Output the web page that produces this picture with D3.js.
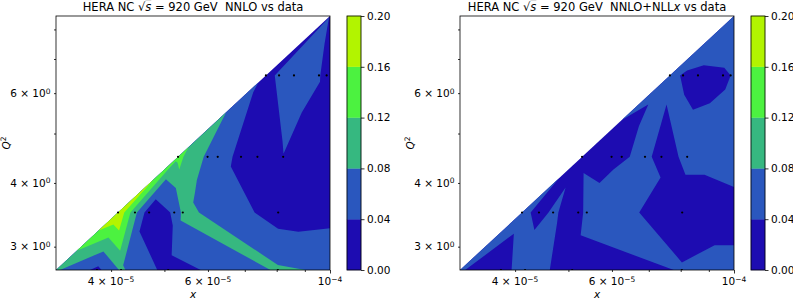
<!DOCTYPE html>
<html><head><meta charset="utf-8">
<script src="https://cdn.jsdelivr.net/npm/d3@7"></script>
<style>
body{margin:0;background:#fff;}
svg text{font-family:"DejaVu Sans",sans-serif;fill:#000;}
</style></head><body>
<svg id="chart" width="793" height="299"></svg>
<script>
// ---------- data ----------
// measured data points (x, Q2), drawn as black dots
const pointX  = [3.77e-5, 4.17e-5, 5.08e-5, 8.04e-5,
                 4.118e-5, 4.42e-5, 4.69e-5, 5.21e-5, 5.40e-5, 8.05e-5,
                 5.294e-5, 5.99e-5, 6.25e-5, 6.89e-5, 7.38e-5, 8.22e-5,
                 7.647e-5, 8.08e-5, 8.60e-5, 9.55e-5, 9.86e-5];
const pointQ2 = [2.7, 2.7, 2.7, 2.7,
                 3.5, 3.5, 3.5, 3.5, 3.5, 3.5,
                 4.5, 4.5, 4.5, 4.5, 4.5, 4.5,
                 6.5, 6.5, 6.5, 6.5, 6.5];
const nnloVsData = [0.030, 0.085, 0.025, 0.085,
                    0.199, 0.090, 0.015, 0.045, 0.090, 0.020,
                    0.130, 0.072, 0.060, 0.028, 0.020, 0.039,
                    0.030, 0.045, 0.070, 0.041, 0.035];
const nnloNllxVsData = [0.025, 0.060, 0.020, 0.042,
                        0.050, 0.030, 0.045, 0.020, 0.055, 0.025,
                        0.033, 0.025, 0.035, 0.050, 0.025, 0.048,
                        0.050, 0.037, 0.033, 0.035, 0.040];
// boundary points of the region (corners and right edge, hidden by the frame)
const edgeX  = [3.176e-5, 1e-4, 1e-4, 1e-4, 1e-4, 1e-4];
const edgeQ2 = [2.7, 2.7, 3.5, 4.5, 6.5, 8.5];
const edgeNnlo     = [0.085, 0.075, 0.025, 0.030, 0.025, 0.039];
const edgeNnloNllx = [0.042, 0.050, 0.025, 0.060, 0.050, 0.079];

const levels = [0.00, 0.04, 0.08, 0.12, 0.16, 0.20];
const levelLabels = ["0.00", "0.04", "0.08", "0.12", "0.16", "0.20"];
const bandColors = ["#1d0cb1", "#2a57be", "#36b880", "#4cf240", "#b2f400"];

const xDomain = [3.176e-5, 1e-4];
const q2Domain = [2.7, 8.5];
const xMinorTicks = [5e-5, 7e-5, 8e-5, 9e-5];
const xLabelTicks = [4e-5, 6e-5];
const xLabelMant = ["4", "6"];
const xLabelExp = ["−5", "−5"];
const xMajorTicks = [1e-4];
const xMajorExp = ["−4"];
const yMinorTicks = [5, 7, 8];
const yLabelTicks = [3, 4, 6];
const yLabelMant = ["3", "4", "6"];
const titles = ["NNLO vs data", "NNLO+NLL"];

// ---------- layout ----------
const svg = d3.select("#chart");
const plotTop = 16, plotBottom = 270;
const tickFont = "10.5px";

// clip a convex polygon of [x, q2, value] vertices to value >= level (linear in data space)
function clipPoly(poly, level) {
  const out = [];
  for (let i = 0; i < poly.length; i++) {
    const a = poly[i], b = poly[(i + 1) % poly.length];
    const ia = a[2] >= level, ib = b[2] >= level;
    if (ia) out.push(a);
    if (ia !== ib) {
      const t = (level - a[2]) / (b[2] - a[2]);
      out.push([a[0] + t * (b[0] - a[0]), a[1] + t * (b[1] - a[1]), level]);
    }
  }
  return out;
}

function supLabel(sel, mant, exp) {
  sel.text(null);
  if (mant) sel.append("tspan").text(mant + " × 10");
  else sel.append("tspan").text("10");
  sel.append("tspan").attr("dy", "-0.45em").attr("font-size", "7.5px").text(exp);
}

function drawPanel(idx, left, right, values, edgeValues) {
  const x = d3.scaleLog().domain(xDomain).range([left, right]);
  const y = d3.scaleLog().domain(q2Domain).range([plotBottom, plotTop]);
  const g = svg.append("g");
  const clipId = "clip" + idx;
  svg.append("clipPath").attr("id", clipId).append("rect")
    .attr("x", left).attr("y", plotTop).attr("width", right - left).attr("height", plotBottom - plotTop);

  const allX = pointX.concat(edgeX), allQ = pointQ2.concat(edgeQ2), allV = values.concat(edgeValues);
  const pts = allX.map((d, i) => [d, allQ[i], allV[i]]);
  // triangulate in linear data coordinates
  const del = d3.Delaunay.from(pts, d => d[0], d => d[1]);
  const tri = del.triangles;
  const paths = bandColors.map(() => "");
  for (let t = 0; t < tri.length; t += 3) {
    const T = [pts[tri[t]], pts[tri[t + 1]], pts[tri[t + 2]]];
    for (let b = 0; b < bandColors.length; b++) {
      const p = clipPoly(T, levels[b]);
      if (p.length < 3) continue;
      paths[b] += "M" + p.map(q => x(q[0]).toFixed(2) + "," + y(q[1]).toFixed(2)).join("L") + "Z";
    }
  }
  const cg = g.append("g").attr("clip-path", `url(#${clipId})`);
  cg.selectAll("path.band").data(paths).join("path")
    .attr("class", "band")
    .attr("d", d => d || "M0,0")
    .attr("fill", (d, i) => bandColors[i]);

  // data dots
  cg.selectAll("circle").data(pointX).join("circle")
    .attr("cx", d => x(d)).attr("cy", (d, i) => y(pointQ2[i]))
    .attr("r", 1.1).attr("fill", "#000");

  // axes
  const axB = g.append("g").attr("transform", `translate(0,${plotBottom})`);
  axB.call(d3.axisBottom(x).tickValues(xMinorTicks.concat(xLabelTicks)).tickSize(2).tickFormat(() => ""));
  axB.select(".domain").remove();
  const axB2 = g.append("g").attr("transform", `translate(0,${plotBottom})`);
  axB2.call(d3.axisBottom(x).tickValues(xMajorTicks).tickSize(3.5).tickFormat(() => ""));
  axB2.select(".domain").remove();
  const axL = g.append("g").attr("transform", `translate(${left},0)`);
  axL.call(d3.axisLeft(y).tickValues(yMinorTicks.concat(yLabelTicks)).tickSize(2).tickFormat(() => ""));
  axL.select(".domain").remove();
  g.selectAll(".tick line").attr("stroke", "#000").attr("stroke-width", 0.8);

  xLabelTicks.forEach((v, i) => {
    g.append("text").attr("x", x(v)).attr("y", 285).attr("text-anchor", "middle")
      .attr("font-size", tickFont).call(s => supLabel(s, xLabelMant[i], xLabelExp[i]));
  });
  xMajorTicks.forEach((v, i) => {
    g.append("text").attr("x", x(v)).attr("y", 285).attr("text-anchor", "middle")
      .attr("font-size", tickFont).call(s => supLabel(s, null, xMajorExp[i]));
  });
  yLabelTicks.forEach((v, i) => {
    g.append("text").attr("x", left - 5.5).attr("y", y(v) + 3.8).attr("text-anchor", "end")
      .attr("font-size", tickFont).call(s => supLabel(s, yLabelMant[i], "0"));
  });

  // frame
  g.append("rect").attr("x", left).attr("y", plotTop).attr("width", right - left).attr("height", plotBottom - plotTop)
    .attr("fill", "none").attr("stroke", "#000").attr("stroke-width", 0.8);

  // axis titles
  g.append("text").attr("x", (left + right) / 2).attr("y", 297.5).attr("text-anchor", "middle")
    .attr("font-size", "10.5px").attr("font-style", "italic").text("x");
  const yl = g.append("text").attr("transform", `translate(${left - 46.5},${(plotTop + plotBottom) / 2}) rotate(-90)`)
    .attr("text-anchor", "middle").attr("font-size", "10.5px");
  yl.append("tspan").attr("font-style", "italic").text("Q");
  yl.append("tspan").attr("dy", "-0.45em").attr("font-size", "7.5px").text("2");

  // title
  const tt = g.append("text").attr("x", (left + right) / 2).attr("y", 11).attr("text-anchor", "middle")
    .attr("font-size", "11.5px").style("white-space", "pre");
  tt.append("tspan").text("HERA NC √");
  tt.append("tspan").attr("font-style", "italic").style("text-decoration", "overline").text("s");
  tt.append("tspan").text(" = 920 GeV  " + titles[idx]);
  if (idx === 1) {
    tt.append("tspan").attr("font-style", "italic").text("x");
    tt.append("tspan").text(" vs data");
  }

  // colorbar
  const cbL = right + 17, cbW = 14;
  const cy = d3.scaleLinear().domain([levels[0], levels[levels.length - 1]]).range([plotBottom, plotTop]);
  const cb = svg.append("g");
  cb.selectAll("rect.cb").data(bandColors).join("rect").attr("class", "cb")
    .attr("x", cbL).attr("width", cbW)
    .attr("y", (d, i) => cy(levels[i + 1])).attr("height", (d, i) => cy(levels[i]) - cy(levels[i + 1]))
    .attr("fill", d => d).attr("stroke", d => d).attr("stroke-width", 0.3);
  cb.append("rect").attr("x", cbL).attr("y", plotTop).attr("width", cbW).attr("height", plotBottom - plotTop)
    .attr("fill", "none").attr("stroke", "#000").attr("stroke-width", 0.8);
  const cax = cb.append("g").attr("transform", `translate(${cbL + cbW},0)`)
    .call(d3.axisRight(cy).tickValues(levels).tickSize(3.5).tickPadding(2.5).tickFormat((d, i) => levelLabels[i]));
  cax.select(".domain").remove();
  cax.selectAll(".tick line").attr("stroke", "#000").attr("stroke-width", 0.8);
  cax.selectAll(".tick text").attr("font-size", tickFont).attr("font-family", "DejaVu Sans");
}

drawPanel(0, 56, 330, nnloVsData, edgeNnlo);
drawPanel(1, 460, 734, nnloNllxVsData, edgeNnloNllx);
</script>
</body></html>
